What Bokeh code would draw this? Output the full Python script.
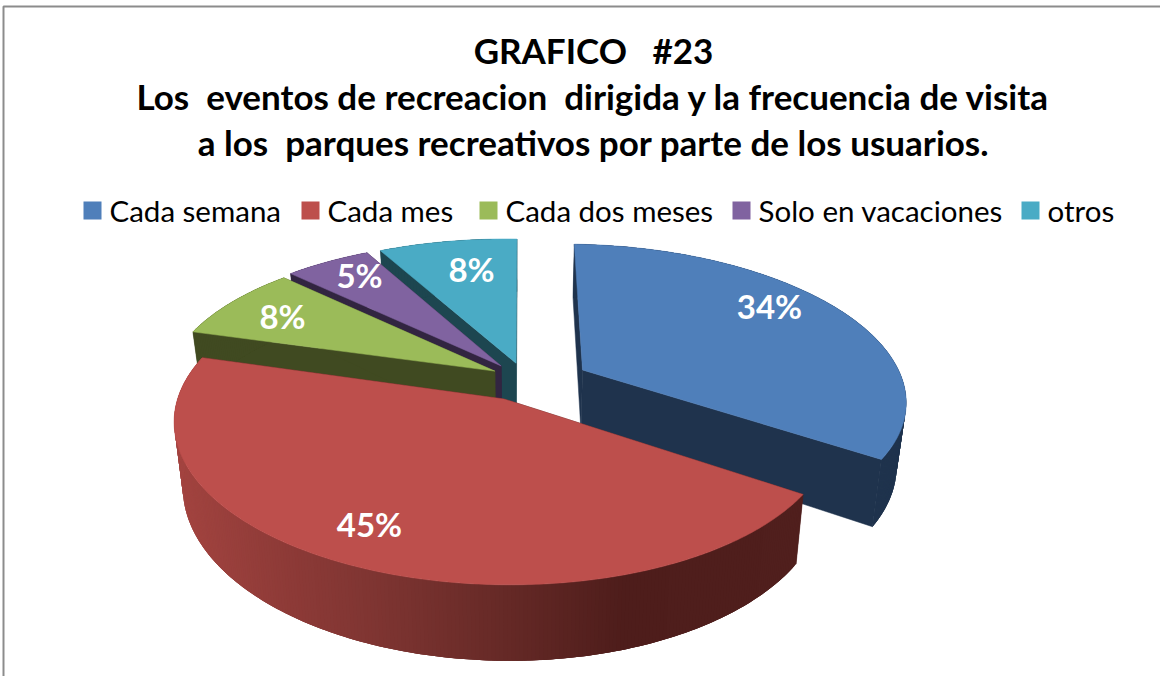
import numpy as np
from bokeh.plotting import figure
from bokeh.models import Range1d, ColumnDataSource
from bokeh.core.properties import value
from bokeh.embed import file_html
from bokeh.resources import INLINE

# ---- data ----
categories = ["Cada semana", "Cada mes", "Cada dos meses", "Solo en vacaciones", "otros"]
shares = [34, 45, 8, 5, 8]
title_lines = ["GRAFICO\u00a0\u00a0\u00a0#23",
               "Los\u00a0\u00a0eventos de recreacion\u00a0\u00a0dirigida y la frecuencia de visita",
               "a los\u00a0\u00a0parques recreativos por parte de los usuarios."]

# ---- style / layout ----
top_colors = ["#4f7fba", "#bd4f4c", "#9bbb59", "#8063a0", "#4aabc5"]
wall_colors = ["#1f334d", "#4f1f1d", "#404a21", "#322541", "#1d4650"]
offsets = [(0.185, 0.05), (-0.055, -0.15), (-0.085, 0.034), (-0.066, 0.07), (-0.02, 0.09)]
x_scale = [0.98, 0.97, 1.0, 1.0, 1.0]
draw_order = [4, 3, 2, 0, 1]
label_xy = [(777, 313.5), (377, 531.5), (290, 323.5), (367, 282.5), (479, 276.5)]
legend_box_x = [100, 318, 496, 749, 1038]
legend_text_x = [117, 335, 513, 766, 1055]
title_y = [57, 103, 149]
CX, CY, RX, RY, K, DEPTH, BOTTOM_SHRINK, SHEAR = 530, 384, 327, 148, 0.16, 62, 0.975, 0.014
gradient_x = [180, 296, 380, 507, 633, 820]
gradient_rgb = [(163, 68, 64), (141, 58, 55), (127, 53, 50), (103, 42, 39), (78, 29, 27), (80, 31, 29)]


def project(U, V, bottom=False):
    s = 1 / (1 + K * V)
    x = CX + RX * U * s
    y = CY - RY * V * s + SHEAR * (x - CX)
    if bottom:
        x = CX + (x - CX) * BOTTOM_SHRINK
        y = y + DEPTH * s
    return x, y


def grad_color(x):
    c = [np.interp(x, gradient_x, [g[i] for g in gradient_rgb]) for i in range(3)]
    return "#%02x%02x%02x" % tuple(int(round(v)) for v in c)


p = figure(width=1160, height=676, x_range=Range1d(8, 1168), y_range=Range1d(684, 8),
           toolbar_location=None, output_backend="svg", min_border=0,
           background_fill_color="white", border_fill_color="white")
p.axis.visible = False
p.grid.visible = False
p.outline_line_color = None

# chart frame
p.line([11, 11, 1168], [684, 14, 14], line_color="#8c8c8c", line_width=2)

edges = np.concatenate([[0], np.cumsum(shares)]) / sum(shares) * 2 * np.pi

for i in draw_order:
    a0, a1 = edges[i], edges[i + 1]
    du, dv = offsets[i]
    th = np.linspace(a0, a1, max(int(shares[i] * 6), 24))
    U = du + x_scale[i] * np.sin(th)
    V = dv + np.cos(th)
    tx, ty = project(U, V)
    bx, by = project(U, V, bottom=True)
    ax, ay = project(np.array([du]), np.array([dv]))
    abx, aby = project(np.array([du]), np.array([dv]), bottom=True)

    # radial walls
    for e in (0, -1):
        p.patch([ax[0], tx[e], bx[e], abx[0]], [ay[0], ty[e], by[e], aby[0]],
                fill_color=wall_colors[i], line_color=wall_colors[i], line_width=0.5)
    # outer wall as overlapping strips, so no seams show
    xs, ys, cols = [], [], []
    for j in range(len(th) - 1):
        k = min(j + 3, len(th) - 1)
        xs.append([tx[j], tx[j + 1], tx[k], bx[k], bx[j + 1], bx[j]])
        ys.append([ty[j], ty[j + 1], ty[k], by[k], by[j + 1], by[j]])
        cols.append(grad_color(tx[j]) if i == 1 else wall_colors[i])
    p.patches("xs", "ys", source=ColumnDataSource(dict(xs=xs, ys=ys, c=cols)),
              fill_color="c", line_color=None)
    # top face
    p.patch(np.concatenate([ax, tx]), np.concatenate([ay, ty]),
            fill_color=top_colors[i], line_color=top_colors[i], line_width=0.5)

# data labels
p.text([q[0] for q in label_xy], [q[1] for q in label_xy], text=[f"{v}%" for v in shares],
       text_font=value("Lato"), text_font_style="bold", text_font_size="33px",
       text_color="white", text_align="center", text_baseline="middle")

# title
p.text([601] * 3, title_y, text=title_lines, text_font=value("Lato"), text_font_style="bold",
       text_font_size="35px", text_color="black", text_align="center", text_baseline="middle")

# legend
p.scatter(legend_box_x, [218] * 5, marker="square", size=18, fill_color=top_colors, line_color=None)
p.text(legend_text_x, [218] * 5, text=categories, text_font=value("Lato"), text_font_size="29.5px",
       text_color="black", text_align="left", text_baseline="middle")

open("out.html", "w").write(file_html(p, INLINE))
